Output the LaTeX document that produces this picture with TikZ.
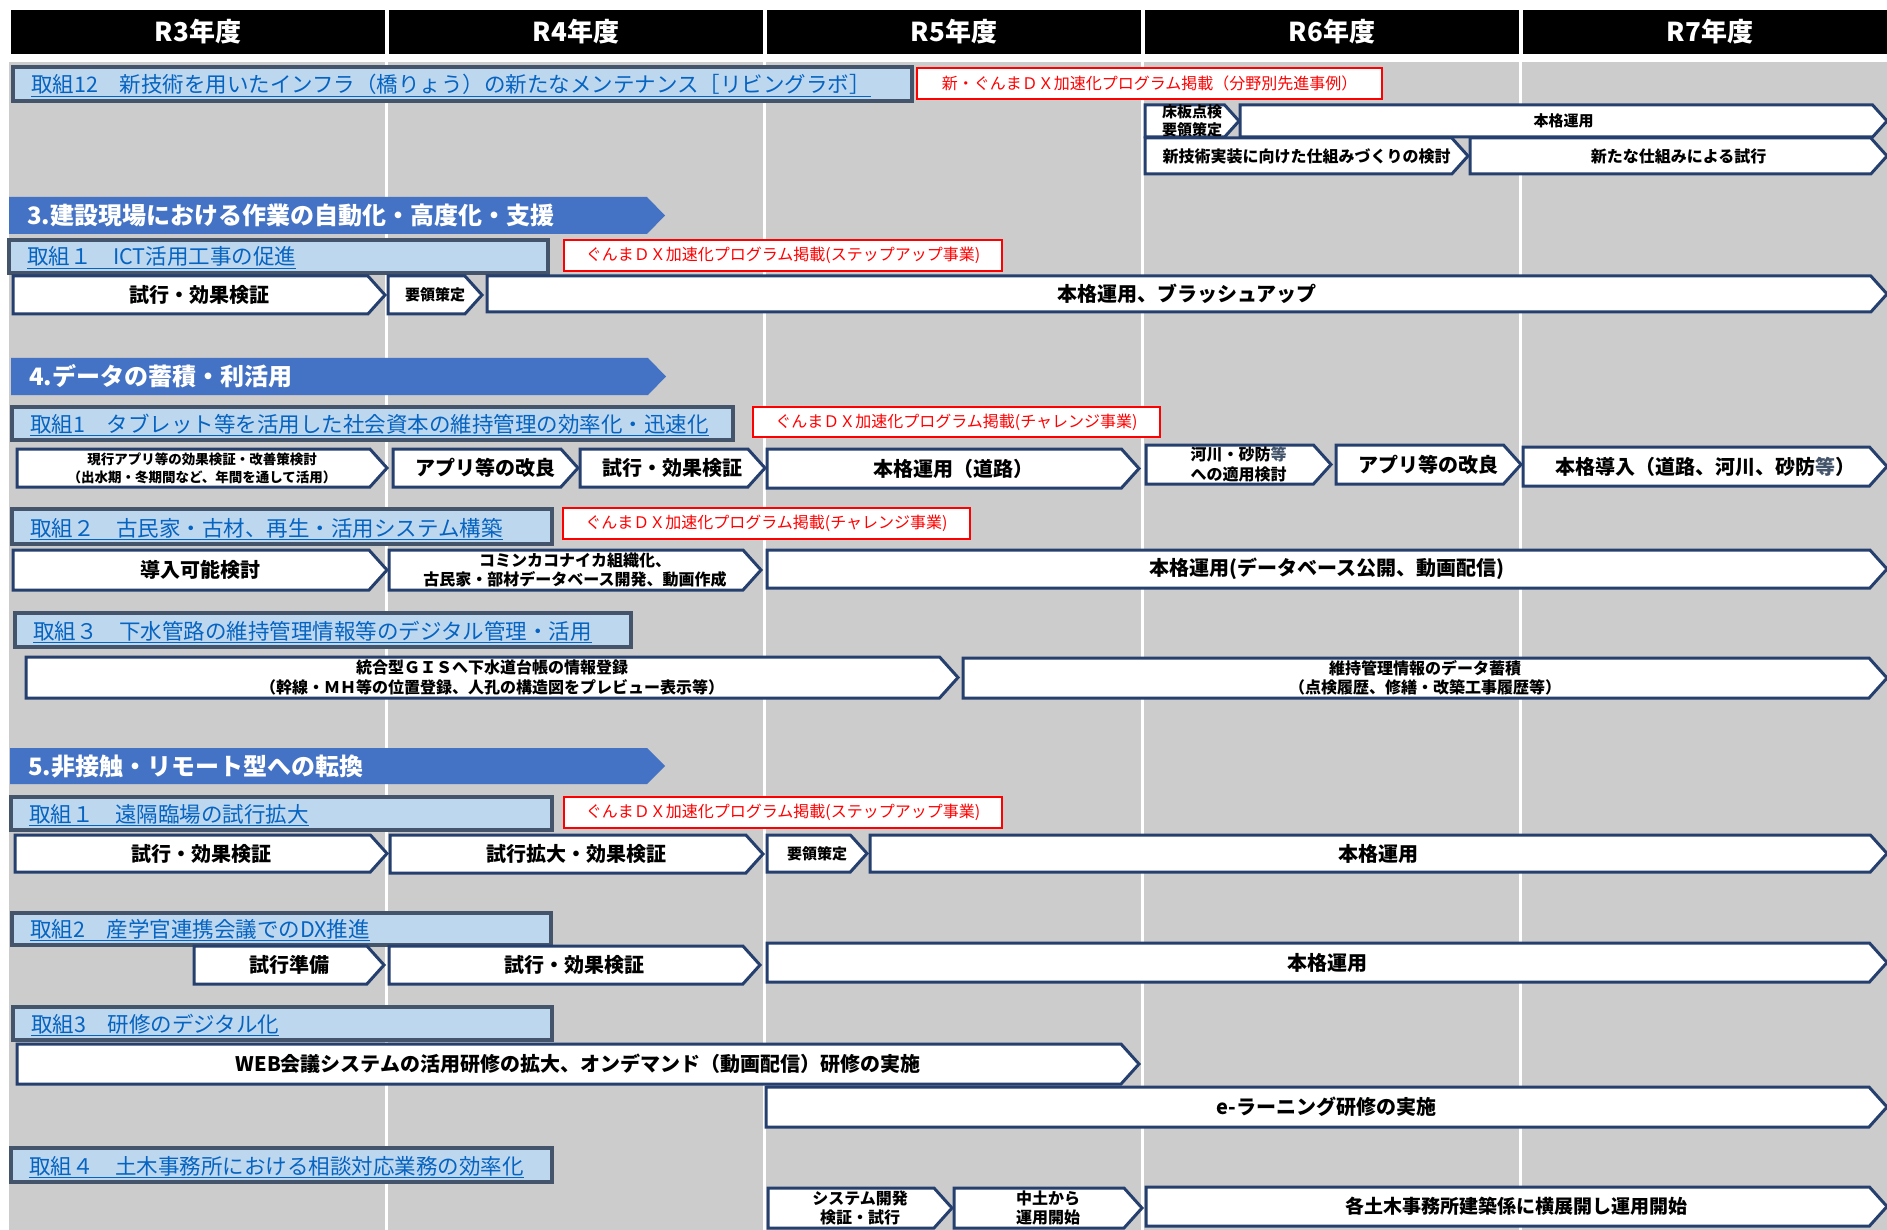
\documentclass[tikz,border=0pt]{standalone}
\usepackage{fontspec}
\setmainfont{Noto Sans CJK JP}
\usepackage{tikz}
\usetikzlibrary{calc}
\definecolor{bggray}{RGB}{204,204,204}
\definecolor{secblue}{RGB}{68,114,196}
\definecolor{taskfill}{RGB}{189,215,238}
\definecolor{taskline}{RGB}{68,84,106}
\definecolor{linkblue}{RGB}{5,99,193}
\definecolor{barline}{RGB}{37,64,110}
\definecolor{notered}{RGB}{255,0,0}
\newcommand{\fbig}{\fontsize{20}{22}\selectfont\bfseries}
\newcommand{\fmid}{\fontsize{16}{19.5}\selectfont\bfseries}
\newcommand{\fsml}{\fontsize{15}{18.5}\selectfont\bfseries}
\newcommand{\ftiny}{\fontsize{13.5}{18}\selectfont\bfseries}
\tikzset{
    stepbar/.style={
        draw=barline,
        fill=white,
        line width=3pt
    },
    steptext/.style={
        font=\fbig,
        align=center,
        inner sep=0pt
    }
}
% pentagon bar with centred text: [opts]{name}{x1}{y1}{x2}{y2}{text}
\newcommand{\stepbar}[7][]{%
  \pgfmathsetmacro{\tipw}{0.45*(#6-#4)}%
  \draw[stepbar] (#3,#4) -- ({#5-\tipw},#4) -- (#5,{(#4+#6)/2}) -- ({#5-\tipw},#6) -- (#3,#6) -- cycle;
  \node[steptext,#1] (#2) at ({(#3+#5)/2},{(#4+#6)/2}) {#7};
}
% blue section banner
\newcommand{\secbar}[6]{%
  \fill[secblue] (#2,#3) -- ({#4-18},#3) -- (#4,{(#3+#5)/2}) -- ({#4-18},#5) -- (#2,#5) -- cycle;
  \node[sectext] (#1) at ({#2+18},{(#3+#5)/2}) {#6};
}
% light blue task title
\newcommand{\taskbox}[6]{%
  \draw[taskbox] (#2,#3) rectangle (#4,#5);
  \node[tasktext] (#1) at ({#2+18},{#5-8}) {#6};
  \draw[linkblue, line width=1.4pt] ([yshift=-3.5pt]#1.base west) -- ([yshift=-3.5pt]#1.base east);
}
% red note
\newcommand{\notebox}[6]{%
  \draw[notebox] (#2,#3) rectangle (#4,#5);
  \node[notetext] (#1) at ({(#2+#4)/2},{(#3+#5)/2}) {#6};
}

\begin{document}
\begin{tikzpicture}[x=1pt, y=-1pt]
  % Define styles for the chart
  \tikzset{
    yearcell/.style={
      fill=black,
      text=white,
      minimum width=374pt,
      minimum height=44pt,
      inner sep=0pt,
      font=\fontsize{26}{28}\selectfont\bfseries
    },
    colline/.style={
      draw=white,
      line width=3pt
    },
    sectext/.style={
      anchor=west,
      text=white,
      inner sep=0pt,
      font=\fontsize{24}{26}\selectfont\bfseries
    },
    taskbox/.style={
      draw=taskline,
      fill=taskfill,
      line width=3.5pt
    },
    tasktext/.style={
      anchor=base west,
      text=linkblue,
      inner sep=0pt,
      font=\fontsize{21.5}{23}\selectfont
    },
    notebox/.style={
      draw=notered,
      fill=white,
      line width=2.5pt
    },
    notetext/.style={
      text=notered,
      inner sep=0pt,
      font=\fontsize{16}{18}\selectfont
    }
  }

  \useasboundingbox (0,0) rectangle (1887,1230);

  % Background and year columns
  \fill[bggray] (9,62) rectangle (1887,1230);
  \foreach \i/\yr in {0/R3,1/R4,2/R5,3/R6,4/R7} {
    \node[yearcell] (y\i) at ({9+378*\i+189},32) {\yr 年度};
  }
  \foreach \i in {1,...,4} {
    \draw[colline] ({9+378*\i-1},62) -- ({9+378*\i-1},1230);
  }

  % Torikumi 12
  \taskbox{k12}{13}{67}{912}{101}{取組12　新技術を用いたインフラ（橋りょう）の新たなメンテナンス［リビングラボ］}
  \notebox{k12n}{917}{68}{1382}{99}{新・ぐんまＤＸ加速化プログラム掲載（分野別先進事例）}
  \stepbar[font=\fsml]{k12a}{1145}{105}{1239}{137}{床板点検\\要領策定}
  \stepbar[font=\fsml]{k12b}{1240}{105}{1887}{137}{本格運用}
  \stepbar[font=\fmid]{k12c}{1145}{138}{1468}{174}{新技術実装に向けた仕組みづくりの検討}
  \stepbar[font=\fmid]{k12d}{1470}{138}{1887}{174}{新たな仕組みによる試行}

  % Section 3
  \secbar{s3}{9}{197}{665}{234}{3.建設現場における作業の自動化・高度化・支援}
  \taskbox{k31}{9}{240}{548}{273}{取組１　ICT活用工事の促進}
  \notebox{k31n}{564}{240}{1002}{271}{ぐんまＤＸ加速化プログラム掲載(ステップアップ事業)}
  \stepbar{k31a}{13}{276}{385}{314}{試行・効果検証}
  \stepbar[font=\fsml]{k31b}{388}{276}{482}{314}{要領策定}
  \stepbar{k31c}{487}{276}{1887}{312}{本格運用、ブラッシュアップ}

  % Section 4
  \secbar{s4}{11}{358}{666}{395}{4.データの蓄積・利活用}
  \taskbox{k41}{12}{407}{733}{440}{取組1　タブレット等を活用した社会資本の維持管理の効率化・迅速化}
  \notebox{k41n}{753}{407}{1160}{437}{ぐんまＤＸ加速化プログラム掲載(チャレンジ事業)}
  \stepbar[font=\ftiny]{k41a}{17}{449}{387}{487}{現行アプリ等の効果検証・改善策検討\\（出水期・冬期間など、年間を通して活用）}
  \stepbar{k41b}{393}{449}{578}{487}{アプリ等の改良}
  \stepbar{k41c}{580}{449}{765}{487}{試行・効果検証}
  \stepbar{k41d}{767}{449}{1139}{488}{本格運用（道路）}
  \stepbar[font=\fmid]{k41e}{1146}{445}{1331}{484}{河川・砂防\textcolor{taskline}{等}\\への適用検討}
  \stepbar{k41f}{1336}{445}{1521}{484}{アプリ等の改良}
  \stepbar{k41g}{1523}{447}{1887}{486}{本格導入（道路、河川、砂防\textcolor{taskline}{等}）}

  \taskbox{k42}{12}{509}{552}{544}{取組２　古民家・古材、再生・活用システム構築}
  \notebox{k42n}{563}{508}{970}{539}{ぐんまＤＸ加速化プログラム掲載(チャレンジ事業)}
  \stepbar{k42a}{13}{550}{387}{590}{導入可能検討}
  \stepbar[font=\fmid]{k42b}{389}{550}{761}{590}{コミンカコナイカ組織化、\\古民家・部材データベース開発、動画作成}
  \stepbar{k42c}{767}{550}{1887}{588}{本格運用(データベース公開、動画配信)}

  \taskbox{k43}{15}{613}{631}{647}{取組３　下水管路の維持管理情報等のデジタル管理・活用}
  \stepbar[font=\fmid]{k43a}{26}{657}{958}{698}{統合型ＧＩＳへ下水道台帳の情報登録\\（幹線・ＭＨ等の位置登録、人孔の構造図をプレビュー表示等）}
  \stepbar[font=\fmid]{k43b}{963}{658}{1887}{698}{維持管理情報のデータ蓄積\\（点検履歴、修繕・改築工事履歴等）}

  % Section 5
  \secbar{s5}{10}{748}{665}{784}{5.非接触・リモート型への転換}
  \taskbox{k51}{11}{797}{552}{830}{取組１　遠隔臨場の試行拡大}
  \notebox{k51n}{564}{797}{1002}{828}{ぐんまＤＸ加速化プログラム掲載(ステップアップ事業)}
  \stepbar{k51a}{15}{835}{387}{872}{試行・効果検証}
  \stepbar{k51b}{390}{835}{763}{873}{試行拡大・効果検証}
  \stepbar[font=\fsml]{k51c}{767}{835}{867}{872}{要領策定}
  \stepbar{k51d}{870}{835}{1887}{872}{本格運用}

  \taskbox{k52}{12}{913}{551}{945}{取組2　産学官連携会議でのDX推進}
  \stepbar{k52a}{194}{946}{384}{984}{試行準備}
  \stepbar{k52b}{389}{946}{760}{984}{試行・効果検証}
  \stepbar{k52c}{767}{943}{1887}{982}{本格運用}

  \taskbox{k53}{13}{1007}{552}{1040}{取組3　研修のデジタル化}
  \stepbar{k53a}{17}{1044}{1139}{1084}{WEB会議システムの活用研修の拡大、オンデマンド（動画配信）研修の実施}
  \stepbar{k53b}{766}{1087}{1887}{1127}{e-ラーニング研修の実施}

  \taskbox{k54}{11}{1148}{552}{1182}{取組４　土木事務所における相談対応業務の効率化}
  \stepbar[font=\fmid]{k54a}{768}{1188}{952}{1228}{システム開発\\検証・試行}
  \stepbar[font=\fmid]{k54b}{954}{1188}{1142}{1228}{中土から\\運用開始}
  \stepbar[font=\fontsize{19}{21}\selectfont\bfseries]{k54c}{1146}{1187}{1887}{1226}{各土木事務所建築係に横展開し運用開始}
\end{tikzpicture}
\end{document}
